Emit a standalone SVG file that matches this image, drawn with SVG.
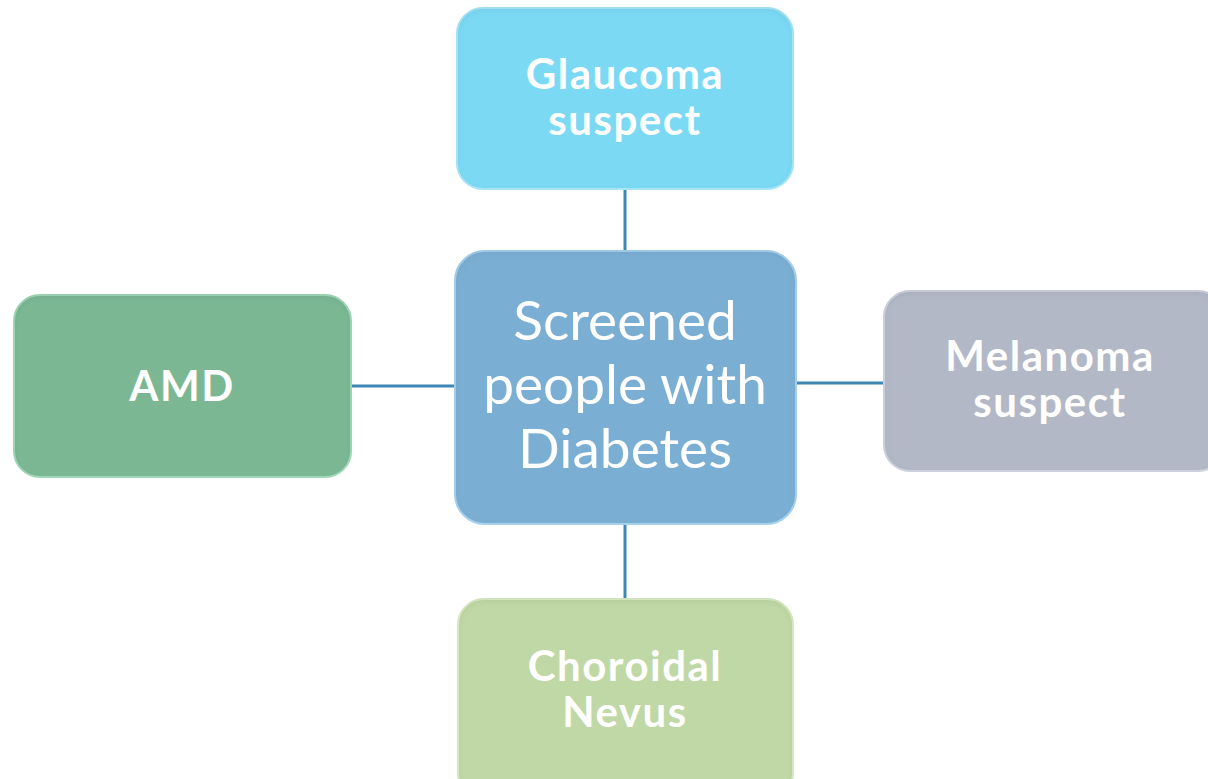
<svg xmlns="http://www.w3.org/2000/svg" width="1208" height="779" viewBox="0 0 1208 779">
<defs>
<filter id="bevel" x="-5%" y="-5%" width="110%" height="112%">
<feGaussianBlur in="SourceAlpha" stdDeviation="3" result="b"/>
<feOffset in="b" dx="0" dy="2" result="o"/>
<feComposite in="SourceAlpha" in2="o" operator="out" result="inner"/>
<feFlood flood-color="#000" flood-opacity="0.18"/>
<feComposite in2="inner" operator="in" result="shade"/>
<feMerge><feMergeNode in="SourceGraphic"/><feMergeNode in="shade"/></feMerge>
</filter>
<style>
.box{stroke-width:2;filter:url(#bevel)}
.lbl{font-family:Lato,"Open Sans","Liberation Sans",sans-serif;font-weight:bold;fill:#fff;text-anchor:middle;font-size:42px;letter-spacing:1.5px}
.ctr{font-family:Lato,"Open Sans","Liberation Sans",sans-serif;font-weight:normal;fill:#fff;text-anchor:middle;font-size:55px}
.conn{stroke:#3f87b3;stroke-width:3;fill:none}
</style>
</defs>
<rect width="1208" height="779" fill="#fff"/>
<g id="connectors">
<line class="conn" x1="625" y1="190" x2="625" y2="250"/>
<line class="conn" x1="625" y1="525" x2="625" y2="598"/>
<line class="conn" x1="352" y1="386" x2="454" y2="386"/>
<line class="conn" x1="797" y1="383" x2="883" y2="383"/>
</g>
<g id="glaucoma">
<rect class="box" x="457" y="8" width="336" height="181" rx="26" fill="#7bd9f4" stroke="#a9e9fb"/>
<text class="lbl" x="625" y="89">Glaucoma</text>
<text class="lbl" x="625" y="135">suspect</text>
</g>
<g id="center">
<rect class="box" x="455" y="251" width="341" height="273" rx="30" fill="#7aafd3" stroke="#a8d4f1"/>
<text class="ctr" x="625" y="340">Screened</text>
<text class="ctr" x="625" y="404">people with</text>
<text class="ctr" x="625" y="468">Diabetes</text>
</g>
<g id="amd">
<rect class="box" x="14" y="295" width="337" height="182" rx="26" fill="#7bb794" stroke="#a2dcb9"/>
<text class="lbl" x="182" y="401">AMD</text>
</g>
<g id="melanoma">
<rect class="box" x="884" y="291" width="340" height="180" rx="26" fill="#b3b8c6" stroke="#d0d5e2"/>
<text class="lbl" x="1050" y="371">Melanoma</text>
<text class="lbl" x="1050" y="417">suspect</text>
</g>
<g id="choroidal">
<rect class="box" x="458" y="599" width="335" height="200" rx="26" fill="#c0d8a5" stroke="#dcefc6"/>
<text class="lbl" x="625" y="681">Choroidal</text>
<text class="lbl" x="625" y="727">Nevus</text>
</g>
</svg>
